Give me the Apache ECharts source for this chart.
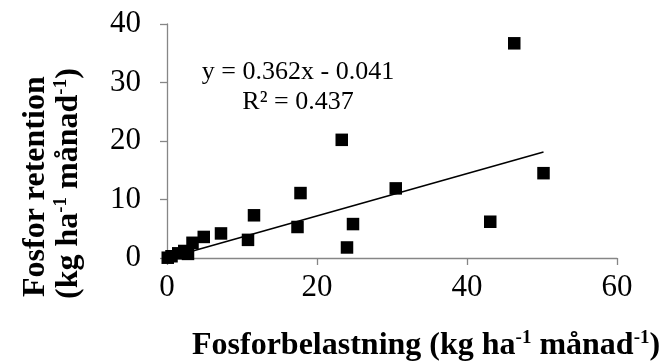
<!DOCTYPE html>
<html>
<head>
<meta charset="utf-8">
<script src="https://cdn.jsdelivr.net/npm/echarts@6/dist/echarts.min.js"></script>
<style>
  html, body { margin: 0; padding: 0; background: #fff; }
  #chart { width: 667px; height: 363px; }
</style>
</head>
<body>
<div id="chart"></div>
<script>
// Data
var loadX = [0.1, 0.6, 1.5, 2.3, 2.8, 3.4, 4.9, 7.2, 10.8, 11.6, 17.4, 17.8, 23.3, 24.0, 24.8, 30.5, 43.1, 46.3, 50.2];
var retentionY = [0.05, 0.3, 0.8, 1.2, 0.7, 2.6, 3.6, 4.2, 3.1, 7.3, 5.3, 11.1, 20.2, 1.8, 5.8, 11.9, 6.2, 36.7, 14.5];
var xTicks = [0, 20, 40, 60];
var yTicks = [0, 10, 20, 30, 40];
var trendSlope = 0.362;
var trendIntercept = -0.041;
var trendRange = [0, 50.2];
var eqLine1 = 'y = 0.362x - 0.041';
var eqLine2 = 'R² = 0.437';

var points = loadX.map(function (x, i) { return [x, retentionY[i]]; });
var trend = trendRange.map(function (x) { return [x, trendSlope * x + trendIntercept]; });

var serif = '"Liberation Serif", "Times New Roman", serif';
var axisColor = '#868686';
var richTitle = {
  n: { fontFamily: serif, fontWeight: 'bold', fontSize: 32, lineHeight: 35, fill: '#000', color: '#000' },
  s: { fontFamily: serif, fontWeight: 'bold', fontSize: 19, lineHeight: 22, verticalAlign: 'top', fill: '#000', color: '#000' }
};

var chart = echarts.init(document.getElementById('chart'), null, { renderer: 'canvas' });
chart.setOption({
  animation: false,
  backgroundColor: '#ffffff',
  grid: { left: 167, right: 50, top: 24, bottom: 105, containLabel: false },
  xAxis: {
    type: 'value', min: xTicks[0], max: xTicks[xTicks.length - 1], interval: 20,
    axisLine: { show: true, lineStyle: { color: axisColor, width: 1.3 } },
    axisTick: { show: true, length: 7, lineStyle: { color: axisColor, width: 1.3 } },
    splitLine: { show: false },
    axisLabel: { color: '#000', fontFamily: serif, fontSize: 31, margin: 14 }
  },
  yAxis: {
    type: 'value', min: yTicks[0], max: yTicks[yTicks.length - 1], interval: 10,
    axisLine: { show: true, lineStyle: { color: axisColor, width: 1.3 } },
    axisTick: { show: true, length: 7, lineStyle: { color: axisColor, width: 1.3 } },
    splitLine: { show: false },
    axisLabel: { color: '#000', fontFamily: serif, fontSize: 31, margin: 26 }
  },
  series: [
    {
      type: 'line', data: trend, showSymbol: false, symbol: 'none',
      lineStyle: { color: '#000', width: 1.6 }, z: 2, silent: true
    },
    {
      type: 'scatter', data: points, symbol: 'rect', symbolSize: 12.5,
      itemStyle: { color: '#000', opacity: 1 }, z: 3
    }
  ],
  graphic: [
    {
      type: 'text', x: 298, y: 85,
      style: { text: eqLine1, fill: '#000', font: '26px ' + serif, textAlign: 'center', textVerticalAlign: 'bottom' }
    },
    {
      type: 'text', x: 298, y: 115,
      style: { text: eqLine2, fill: '#000', font: '26px ' + serif, textAlign: 'center', textVerticalAlign: 'bottom' }
    },
    {
      type: 'text', x: 192, y: 346,
      style: {
        text: '{n|Fosforbelastning (kg ha}{s|-1}{n| månad}{s|-1}{n|)}',
        textAlign: 'left', textVerticalAlign: 'middle',
        rich: richTitle
      }
    },
    {
      type: 'text', x: 36, y: 297, rotation: Math.PI / 2,
      style: {
        text: 'Fosfor retention',
        font: 'bold 32px ' + serif, fill: '#000',
        textAlign: 'left', textVerticalAlign: 'middle'
      }
    },
    {
      type: 'text', x: 69, y: 299, rotation: Math.PI / 2,
      style: {
        text: '{n|(kg ha}{s|-1}{n| månad}{s|-1}{n|)}',
        textAlign: 'left', textVerticalAlign: 'middle',
        rich: richTitle
      }
    }
  ]
});
</script>
</body>
</html>
